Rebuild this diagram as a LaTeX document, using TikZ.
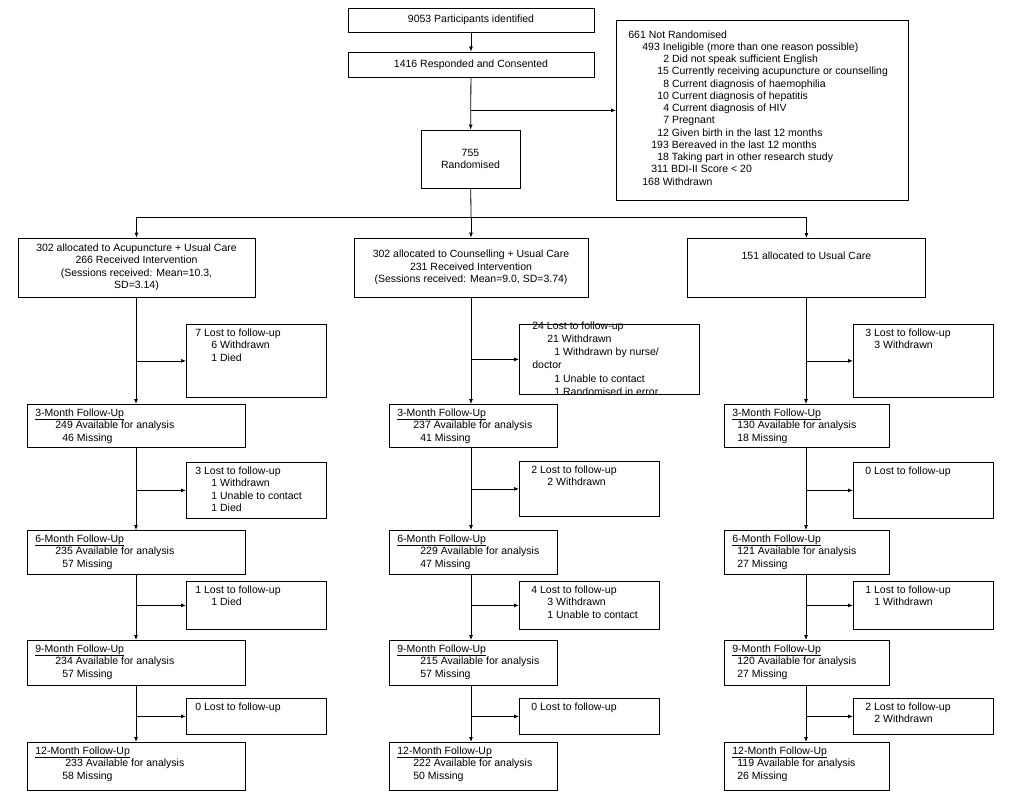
\documentclass[tikz,border=0pt]{standalone}
\usepackage{fontspec}
\setmainfont{Liberation Sans}
\usetikzlibrary{arrows.meta,positioning}
\newcommand\fs{\fontsize{10.5}{12.5}\selectfont}
\newcommand\ind[1]{\hspace*{#1pt}}

\begin{document}
\begin{tikzpicture}[x=1pt, y=-1pt, >={Latex[length=5pt,width=4pt]}, line width=0.8pt]
  \tikzset{
    frame/.style={draw, anchor=north west, inner sep=0pt, fill=white},
    txt/.style={anchor=north west, align=left, inner sep=0pt, font=\fs},
    ctr/.style={draw, inner sep=0pt, align=center, font=\fs},
  }
  \useasboundingbox (0,0) rectangle (1019,800);

  % Enrolment
  \node[ctr, minimum width=246pt, minimum height=24pt] (ident) at (471,20) {9053 Participants identified};
  \node[ctr, minimum width=246pt, minimum height=25pt] (consent) at (471,64.5) {1416 Responded and Consented};
  \node[ctr, minimum width=99pt, minimum height=58pt] (rand) at (470.5,159) {755\\Randomised};
  \node[frame, minimum width=292pt, minimum height=180pt] (notrand) at (616,20) {};
  \node[txt, font=\fontsize{10.5}{12.25}\selectfont] at ([xshift=12pt,yshift=-10pt]notrand.north west) {%
    661 Not Randomised\\
    \ind{14}493 Ineligible (more than one reason possible)\\
    \ind{35}2 Did not speak sufficient English\\
    \ind{29}15 Currently receiving acupuncture or counselling\\
    \ind{35}8 Current diagnosis of haemophilia\\
    \ind{29}10 Current diagnosis of hepatitis\\
    \ind{35}4 Current diagnosis of HIV\\
    \ind{35}7 Pregnant\\
    \ind{29}12 Given birth in the last 12 months\\
    \ind{23}193 Bereaved in the last 12 months\\
    \ind{29}18 Taking part in other research study\\
    \ind{23}311 BDI-II Score < 20\\
    \ind{14}168 Withdrawn};
  \coordinate (split) at (471,217);

  \draw[->] (ident) -- (consent);
  \draw[->] (consent) -- (rand);
  \draw[->] (notrand.west -| rand.north) -- (notrand.west);

  % Allocation
  \node[ctr, minimum width=237pt, minimum height=59pt] (allocA) at (136.5,267.5) {302 allocated to Acupuncture + Usual Care\\266 Received Intervention\\(Sessions received: Mean=10.3,\\SD=3.14)};
  \node[ctr, minimum width=234pt, minimum height=59pt] (allocC) at (471,267.5) {302 allocated to Counselling + Usual Care\\231 Received Intervention\\(Sessions received: Mean=9.0, SD=3.74)};
  \node[frame, minimum width=238pt, minimum height=59pt] (allocU) at (687,238) {};
  \node[font=\fs, anchor=north, inner sep=0pt] at ([yshift=-13pt]allocU.north) {151 allocated to Usual Care};

  \draw (rand) -- (split);
  \draw[->] (split) -| (allocA.north);
  \draw[->] (split) -- (allocC.north);
  \draw[->] (split) -| (allocU.north);

  % Acupuncture column
  \node[frame, minimum width=140pt, minimum height=73pt] (lostA1) at (186,324) {};
  \node[txt] at ([xshift=9pt,yshift=-4pt]lostA1.north west) {7 Lost to follow-up\\\ind{16}6 Withdrawn\\\ind{16}1 Died};
  \node[frame, minimum width=218pt, minimum height=43pt] (fuA1) at (27,404) {};
  \node[txt] at ([xshift=8pt,yshift=-4pt]fuA1.north west) {\underline{3-Month Follow-Up}\\\ind{20}249 Available for analysis\\\ind{27}46 Missing};
  \node[frame, minimum width=140pt, minimum height=56pt] (lostA2) at (186,462) {};
  \node[txt] at ([xshift=9pt,yshift=-4pt]lostA2.north west) {3 Lost to follow-up\\\ind{16}1 Withdrawn\\\ind{16}1 Unable to contact\\\ind{16}1 Died};
  \node[frame, minimum width=218pt, minimum height=44pt] (fuA2) at (27,530) {};
  \node[txt] at ([xshift=8pt,yshift=-4pt]fuA2.north west) {\underline{6-Month Follow-Up}\\\ind{20}235 Available for analysis\\\ind{27}57 Missing};
  \node[frame, minimum width=140pt, minimum height=48pt] (lostA3) at (186,581) {};
  \node[txt] at ([xshift=9pt,yshift=-4pt]lostA3.north west) {1 Lost to follow-up\\\ind{16}1 Died};
  \node[frame, minimum width=218pt, minimum height=45pt] (fuA3) at (27,640) {};
  \node[txt] at ([xshift=8pt,yshift=-4pt]fuA3.north west) {\underline{9-Month Follow-Up}\\\ind{20}234 Available for analysis\\\ind{27}57 Missing};
  \node[frame, minimum width=140pt, minimum height=36pt] (lostA4) at (186,698) {};
  \node[txt] at ([xshift=9pt,yshift=-4pt]lostA4.north west) {0 Lost to follow-up};
  \node[frame, minimum width=218pt, minimum height=48pt] (fuA4) at (27,742) {};
  \node[txt] at ([xshift=8pt,yshift=-4pt]fuA4.north west) {\underline{12-Month Follow-Up}\\\ind{30}233 Available for analysis\\\ind{27}58 Missing};

  % Counselling column
  \node[frame, minimum width=180pt, minimum height=70pt] (lostC1) at (519,324) {};
  \node[txt, fill=none, font=\fontsize{10.5}{13.3}\selectfont] at ([xshift=13pt,yshift=3pt]lostC1.north west) {24 Lost to follow-up\\\ind{15}21 Withdrawn\\\ind{22}1 Withdrawn by nurse/\\doctor\\\ind{22}1 Unable to contact\\\ind{22}1 Randomised in error};
  \node[frame, minimum width=168pt, minimum height=43pt] (fuC1) at (389,404) {};
  \node[txt] at ([xshift=8pt,yshift=-4pt]fuC1.north west) {\underline{3-Month Follow-Up}\\\ind{16}237 Available for analysis\\\ind{23}41 Missing};
  \node[frame, minimum width=140pt, minimum height=55pt] (lostC2) at (519,461) {};
  \node[txt] at ([xshift=12pt,yshift=-4pt]lostC2.north west) {2 Lost to follow-up\\\ind{16}2 Withdrawn};
  \node[frame, minimum width=168pt, minimum height=44pt] (fuC2) at (389,530) {};
  \node[txt] at ([xshift=8pt,yshift=-4pt]fuC2.north west) {\underline{6-Month Follow-Up}\\\ind{23}229 Available for analysis\\\ind{23}47 Missing};
  \node[frame, minimum width=140pt, minimum height=48pt] (lostC3) at (519,581) {};
  \node[txt] at ([xshift=12pt,yshift=-4pt]lostC3.north west) {4 Lost to follow-up\\\ind{16}3 Withdrawn\\\ind{16}1 Unable to contact};
  \node[frame, minimum width=168pt, minimum height=45pt] (fuC3) at (389,640) {};
  \node[txt] at ([xshift=8pt,yshift=-4pt]fuC3.north west) {\underline{9-Month Follow-Up}\\\ind{23}215 Available for analysis\\\ind{23}57 Missing};
  \node[frame, minimum width=140pt, minimum height=36pt] (lostC4) at (519,698) {};
  \node[txt] at ([xshift=12pt,yshift=-4pt]lostC4.north west) {0 Lost to follow-up};
  \node[frame, minimum width=168pt, minimum height=48pt] (fuC4) at (389,742) {};
  \node[txt] at ([xshift=8pt,yshift=-4pt]fuC4.north west) {\underline{12-Month Follow-Up}\\\ind{16}222 Available for analysis\\\ind{16}50 Missing};

  % Usual care column
  \node[frame, minimum width=140pt, minimum height=73pt] (lostU1) at (853,324) {};
  \node[txt] at ([xshift=12pt,yshift=-4pt]lostU1.north west) {3 Lost to follow-up\\\ind{9}3 Withdrawn};
  \node[frame, minimum width=165pt, minimum height=43pt] (fuU1) at (724,404) {};
  \node[txt] at ([xshift=8pt,yshift=-4pt]fuU1.north west) {\underline{3-Month Follow-Up}\\\ind{5}130 Available for analysis\\\ind{5}18 Missing};
  \node[frame, minimum width=140pt, minimum height=56pt] (lostU2) at (853,462) {};
  \node[txt] at ([xshift=12pt,yshift=-4pt]lostU2.north west) {0 Lost to follow-up};
  \node[frame, minimum width=165pt, minimum height=44pt] (fuU2) at (724,530) {};
  \node[txt] at ([xshift=8pt,yshift=-4pt]fuU2.north west) {\underline{6-Month Follow-Up}\\\ind{5}121 Available for analysis\\\ind{5}27 Missing};
  \node[frame, minimum width=140pt, minimum height=48pt] (lostU3) at (853,581) {};
  \node[txt] at ([xshift=12pt,yshift=-4pt]lostU3.north west) {1 Lost to follow-up\\\ind{9}1 Withdrawn};
  \node[frame, minimum width=165pt, minimum height=45pt] (fuU3) at (724,640) {};
  \node[txt] at ([xshift=8pt,yshift=-4pt]fuU3.north west) {\underline{9-Month Follow-Up}\\\ind{5}120 Available for analysis\\\ind{5}27 Missing};
  \node[frame, minimum width=140pt, minimum height=36pt] (lostU4) at (853,698) {};
  \node[txt] at ([xshift=12pt,yshift=-4pt]lostU4.north west) {2 Lost to follow-up\\\ind{9}2 Withdrawn};
  \node[frame, minimum width=165pt, minimum height=48pt] (fuU4) at (724,742) {};
  \node[txt] at ([xshift=8pt,yshift=-4pt]fuU4.north west) {\underline{12-Month Follow-Up}\\\ind{5}119 Available for analysis\\\ind{5}26 Missing};

  % Spines and branches
  \foreach \c/\x in {A/136, C/471, U/806} {
    \draw[->] (alloc\c.south -| \x,0) -- (fu\c1.north -| \x,0);
    \draw[->] (fu\c1.south -| \x,0) -- (fu\c2.north -| \x,0);
    \draw[->] (fu\c2.south -| \x,0) -- (fu\c3.north -| \x,0);
    \draw[->] (fu\c3.south -| \x,0) -- (fu\c4.north -| \x,0);
    \foreach \i in {1,...,4}
      \draw[->] (lost\c\i.west -| \x,0) -- (lost\c\i.west);
  }
\end{tikzpicture}
\end{document}
